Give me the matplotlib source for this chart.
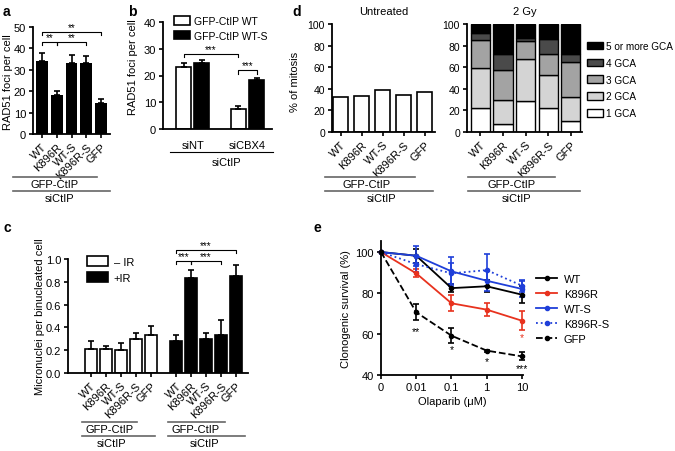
import numpy as np
import matplotlib.pyplot as plt
from matplotlib.lines import Line2D

plt.rcParams['font.family'] = ['Liberation Sans', 'DejaVu Sans']
plt.rcParams['font.size'] = 8
plt.rcParams['axes.linewidth'] = 1.3
plt.rcParams['xtick.major.width'] = 1.2
plt.rcParams['ytick.major.width'] = 1.2
plt.rcParams['xtick.major.size'] = 3
plt.rcParams['ytick.major.size'] = 3

# ---- data ----
mutants = ['WT', 'K896R', 'WT-S', 'K896R-S', 'GFP']

# a: RAD51 foci per cell
rad51_mean = [34, 18, 33, 33, 14.5]
rad51_err = [4, 2, 4, 3.5, 2]

# b: RAD51 foci, siNT / siCBX4
b_groups = ['siNT', 'siCBX4']
b_wt = [23, 7.5]
b_wt_err = [1.5, 1.0]
b_wts = [24.5, 18.5]
b_wts_err = [1.3, 0.7]

# c: micronuclei per binucleated cell
mn_noir = [0.21, 0.21, 0.205, 0.295, 0.335]
mn_noir_err = [0.075, 0.03, 0.055, 0.055, 0.075]
mn_ir = [0.285, 0.83, 0.295, 0.335, 0.85]
mn_ir_err = [0.045, 0.07, 0.055, 0.13, 0.095]

# d: % of mitosis
mitosis_untreated = [32, 33, 39, 34, 37]
gca_labels = ['1 GCA', '2 GCA', '3 GCA', '4 GCA', '5 or more GCA']
gca_1 = [22, 7.5, 29, 22, 10]
gca_2 = [37, 22.5, 39, 31, 22]
gca_3 = [26, 27, 16, 19, 33]
gca_4 = [7, 15, 3, 14, 7]
gca_5 = [8, 28, 13, 14, 28]
gca_colors = ['white', '#d4d4d4', '#a3a3a3', '#4a4a4a', 'black']

# e: clonogenic survival
olaparib = ['0', '0.01', '0.1', '1', '10']
surv_wt = [100, 98.2, 82.4, 83.3, 79.2]
surv_wt_err = [0, 3.5, 2, 3, 4]
surv_k = [100, 89.6, 75, 71.9, 66.5]
surv_k_err = [0, 2, 4, 3, 4.5]
surv_wts = [100, 98.2, 90.6, 86, 82]
surv_wts_err = [0, 5, 7, 5, 4]
surv_ks = [100, 94.1, 89.6, 91.2, 83.6]
surv_ks_err = [0, 4, 5, 8, 3]
surv_gfp = [100, 70.6, 59.2, 51.9, 49.1]
surv_gfp_err = [0, 4, 3.5, 0.5, 2]

W, H = 675, 452
fig = plt.figure(figsize=(6.75, 4.52), dpi=100)


def px_axes(x0, y0, x1, y1):
    ax = fig.add_axes([x0 / W, 1 - y1 / H, (x1 - x0) / W, (y1 - y0) / H])
    ax.spines['top'].set_visible(False)
    ax.spines['right'].set_visible(False)
    ax.tick_params(direction='out', pad=2)
    return ax


def ftext(x, y, s, **kw):
    fig.text(x / W, 1 - y / H, s, **kw)


def fline(x0, x1, y, color='#666666', lw=1.2):
    fig.add_artist(Line2D([x0 / W, x1 / W], [1 - y / H, 1 - y / H], color=color, lw=lw))


def bracket(ax, x1, x2, y, h, txt):
    ax.plot([x1, x1, x2, x2], [y - h, y, y, y - h], color='k', lw=0.8, clip_on=False)
    ax.text((x1 + x2) / 2, y, txt, ha='center', va='bottom', fontsize=7, clip_on=False)


def rot_labels(ax, pos, labels):
    ax.set_xticks(pos)
    ax.set_xticklabels(labels, rotation=45, ha='right', rotation_mode='anchor')


def group_lines(xa, xb, xc, y, t1x, t2x):
    fline(xa, xb, y)
    ftext(t1x, y + 7, 'GFP-CtIP', ha='center', va='center', fontsize=8)
    fline(xa, xc, y + 14)
    ftext(t2x, y + 21, 'siCtIP', ha='center', va='center', fontsize=8)


ebkw = dict(fmt='none', ecolor='k', elinewidth=1.2, capsize=2.5, capthick=1.2)

# ---- panel a ----
ax = px_axes(33, 28, 110, 135)
xa = np.arange(5)
ax.bar(xa, rad51_mean, width=0.8, color='black')
ax.errorbar(xa, rad51_mean, yerr=[np.zeros(5), rad51_err], **ebkw)
ax.set_xlim(-0.6, 4.6)
ax.set_ylim(0, 50)
ax.set_yticks(range(0, 51, 10))
rot_labels(ax, xa, mutants)
bracket(ax, 0, 1, 43, 1.5, '**')
bracket(ax, 1, 3, 43, 1.5, '**')
bracket(ax, 0, 4, 47.6, 1.5, '**')
ftext(8, 82, 'RAD51 foci per cell', rotation=90, ha='center', va='center')
group_lines(13, 97, 110, 178, 55, 60)

# ---- panel b ----
ax = px_axes(163, 23, 272, 130)
xb = np.array([0, 3.04])
ax.bar(xb, b_wt, width=0.83, color='white', edgecolor='black', lw=1.2, label='GFP-CtIP WT')
ax.bar(xb + 1, b_wts, width=0.83, color='black', edgecolor='black', lw=1.2, label='GFP-CtIP WT-S')
ax.errorbar(xb, b_wt, yerr=[np.zeros(2), b_wt_err], **ebkw)
ax.errorbar(xb + 1, b_wts, yerr=[np.zeros(2), b_wts_err], **ebkw)
ax.set_xlim(-1.15, 4.9)
ax.set_ylim(0, 40)
ax.set_yticks(range(0, 41, 10))
ax.set_xticks(xb + 0.5)
ax.set_xticklabels(b_groups, fontsize=8)
ax.tick_params(axis='x', length=0, pad=8)
bracket(ax, 0, 3.04, 28, 1.2, '***')
bracket(ax, 3.04, 4.04, 21.9, 1.2, '***')
ax.legend(loc='upper left', bbox_to_anchor=(174 / W, 1 - 17 / H), bbox_transform=fig.transFigure,
          frameon=False, fontsize=7.5, handlelength=1.5, handleheight=0.9, borderpad=0,
          borderaxespad=0, labelspacing=0.45, handletextpad=0.4)
ftext(133, 67, 'RAD51 foci per cell', rotation=90, ha='center', va='center')
fline(170, 273, 153, color='black', lw=0.8)
ftext(227, 163, 'siCtIP', ha='center', va='center', fontsize=8)

# ---- panel d (untreated) ----
ax = px_axes(332, 25, 435, 133)
xd = np.arange(5)
ax.bar(xd, mitosis_untreated, width=0.72, color='white', edgecolor='black', lw=1.2)
ax.set_xlim(-0.42, 4.5)
ax.set_ylim(0, 100)
ax.set_yticks(range(0, 101, 20))
ax.tick_params(axis='y', labelsize=7.5)
rot_labels(ax, xd, mutants)
ax.set_title('Untreated', fontsize=8, pad=7)
ftext(295, 82, '% of mitosis', rotation=90, ha='center', va='center')
group_lines(325, 415, 433, 178, 367, 382)

# ---- panel d (2 Gy) ----
ax = px_axes(467, 25, 582, 133)
bottom = np.zeros(5)
for vals, col, lab in zip([gca_1, gca_2, gca_3, gca_4, gca_5], gca_colors, gca_labels):
    ax.bar(xd, vals, bottom=bottom, width=0.85, color=col, edgecolor='black', lw=1.0, label=lab)
    bottom += np.array(vals)
ax.set_xlim(-0.59, 4.5)
ax.set_ylim(0, 100)
ax.set_yticks(range(0, 101, 20))
ax.tick_params(axis='y', labelsize=7.5)
rot_labels(ax, xd, mutants)
ax.set_title('2 Gy', fontsize=8, pad=7)
h, l = ax.get_legend_handles_labels()
ax.legend(h[::-1], l[::-1], loc='upper left', bbox_to_anchor=(587 / W, 1 - 42 / H),
          bbox_transform=fig.transFigure, frameon=False, fontsize=7.2, handlelength=1.55,
          handleheight=0.8, borderpad=0, borderaxespad=0, labelspacing=0.68, handletextpad=0.3)
group_lines(468, 555, 580, 178, 512, 517)

# ---- panel c ----
ax = px_axes(68, 260, 248, 374)
xn = np.arange(5)
xi = xn + 5.7
ax.bar(xn, mn_noir, width=0.8, color='white', edgecolor='black', lw=1.2, label='\u2013 IR')
ax.bar(xi, mn_ir, width=0.8, color='black', edgecolor='black', lw=1.2, label='+IR')
ax.errorbar(xn, mn_noir, yerr=[np.zeros(5), mn_noir_err], **ebkw)
ax.errorbar(xi, mn_ir, yerr=[np.zeros(5), mn_ir_err], **ebkw)
ax.set_xlim(-1.5, 10.5)
ax.set_ylim(0, 1.0)
ax.set_yticks(np.arange(0, 1.01, 0.2))
ax.set_yticklabels(['%.1f' % v for v in np.arange(0, 1.01, 0.2)])
rot_labels(ax, np.concatenate([xn, xi]), mutants + mutants)
bracket(ax, 5.7, 6.7, 0.985, 0.03, '***')
bracket(ax, 6.7, 8.7, 0.985, 0.03, '***')
bracket(ax, 5.7, 9.7, 1.08, 0.03, '***')
ax.legend(loc='upper left', bbox_to_anchor=(87 / W, 1 - 257 / H), bbox_transform=fig.transFigure,
          frameon=False, fontsize=8, handlelength=1.9, handleheight=1.0, borderpad=0,
          borderaxespad=0, labelspacing=0.5, handletextpad=0.5)
ftext(40, 317, 'Micronuclei per binucleated cell', rotation=90, ha='center', va='center')
group_lines(82, 137, 155, 423, 110, 112)
group_lines(168, 225, 245, 423, 196, 205)

# ---- panel e ----
ax = px_axes(381, 242, 523, 376)
xe = np.arange(5)
red = '#e8321e'
blue = '#1f3fd9'
series = [
    (surv_wt, surv_wt_err, 'black', '-', 'WT'),
    (surv_k, surv_k_err, red, '-', 'K896R'),
    (surv_wts, surv_wts_err, blue, '-', 'WT-S'),
    (surv_ks, surv_ks_err, blue, ':', 'K896R-S'),
    (surv_gfp, surv_gfp_err, 'black', '--', 'GFP'),
]
handles = []
for vals, err, col, ls, lab in series:
    ax.errorbar(xe, vals, yerr=err, color=col, ls=ls, lw=1.3, marker='o', ms=3,
                capsize=2.5, elinewidth=1.2, capthick=1.2, clip_on=False)
    handles.append(Line2D([], [], color=col, ls=ls, lw=1.3, marker='o', ms=3, label=lab))
ax.set_xlim(0, 4.03)
ax.set_ylim(40, 105.4)
ax.set_yticks([40, 60, 80, 100])
ax.set_xticks(xe)
ax.set_xticklabels(olaparib)
ax.set_xlabel('Olaparib (\u03bcM)', fontsize=8, labelpad=3)
ax.set_ylabel('Clonogenic survival (%)', fontsize=8, labelpad=3)
for x, y, s in [(1, 61.5, '**'), (2, 52.5, '*'), (3, 47.0, '*'), (4, 43.5, '***')]:
    ax.text(x, y, s, ha='center', va='center', fontsize=7.5)
ax.text(4, 58.5, '*', ha='center', va='center', fontsize=7.5, color=red)
ax.legend(handles=handles, loc='upper left', bbox_to_anchor=(536 / W, 1 - 275 / H),
          bbox_transform=fig.transFigure, frameon=False, fontsize=8, handlelength=1.9,
          borderpad=0, borderaxespad=0, labelspacing=0.45, handletextpad=0.6)

# panel letters
for x, y, s in [(3, 12, 'a'), (128, 12, 'b'), (292, 12, 'd'), (4, 228, 'c'), (313, 228, 'e')]:
    ftext(x, y, s, fontsize=10, fontweight='bold', va='center')

fig.savefig('out.png', dpi=100)
